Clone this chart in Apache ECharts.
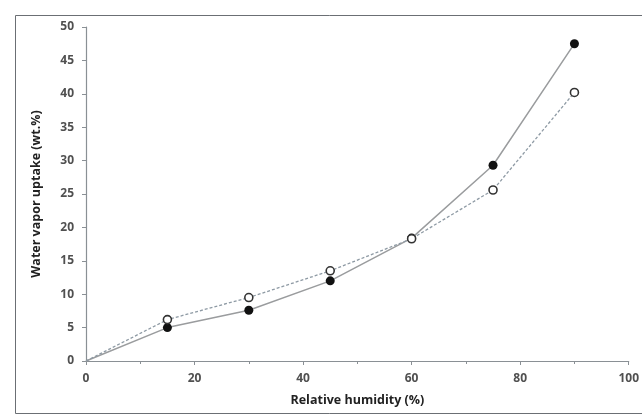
<!DOCTYPE html>
<html>
<head>
<meta charset="utf-8">
<script src="https://cdn.jsdelivr.net/npm/echarts@6/dist/echarts.min.js"></script>
<style>
html,body{margin:0;padding:0;background:#fff;}
#chart{width:642px;height:414px;}
</style>
</head>
<body>
<div id="chart"></div>
<script>
const humidity = [0, 15, 30, 45, 60, 75, 90];
const filledUptake = [0, 5.0, 7.6, 12.0, 18.4, 29.3, 47.5];
const openUptake = [0, 6.2, 9.5, 13.5, 18.3, 25.6, 40.2];
const xTitle = 'Relative humidity (%)';
const yTitle = 'Water vapor uptake (wt.%)';

function pairs(xs, ys) {
  return xs.map((x, i) => i === 0 ? { value: [x, ys[i]], symbolSize: 0 } : [x, ys[i]]);
}

const chart = echarts.init(document.getElementById('chart'));
const fontFamily = '"Open Sans", "Liberation Sans", sans-serif';
chart.setOption({
  backgroundColor: '#ffffff',
  animation: false,
  graphic: [{
    type: 'rect', left: 13, top: 13, z: -1,
    shape: { width: 640, height: 398 },
    style: { fill: 'none', stroke: '#6b6f74', lineWidth: 1 }
  }],
  grid: { left: 86, right: 12, top: 27, bottom: 53 },
  xAxis: {
    type: 'value', min: 0, max: 100, interval: 20,
    name: xTitle, nameLocation: 'middle', nameGap: 33,
    nameTextStyle: { fontFamily, fontWeight: 'bold', fontSize: 12.5, color: '#222' },
    axisLine: { show: true, lineStyle: { color: '#8a9095', width: 1.2 } },
    axisTick: { show: true, length: 4, lineStyle: { color: '#8a9095' } },
    minorTick: { show: true, splitNumber: 2, length: 3, lineStyle: { color: '#8a9095' } },
    axisLabel: { fontFamily, fontWeight: 'bold', fontSize: 12, color: '#505050', margin: 12 },
    splitLine: { show: false }
  },
  yAxis: {
    type: 'value', min: 0, max: 50, interval: 5,
    name: yTitle, nameLocation: 'middle', nameGap: 43, nameRotate: 90,
    nameTextStyle: { fontFamily, fontWeight: 'bold', fontSize: 12.5, color: '#222' },
    axisLine: { show: true, lineStyle: { color: '#8a9095', width: 1.2 } },
    axisTick: { show: true, length: 4, lineStyle: { color: '#8a9095' } },
    axisLabel: { fontFamily, fontWeight: 'bold', fontSize: 12, color: '#505050', margin: 12 },
    splitLine: { show: false }
  },
  series: [
    {
      type: 'line', data: pairs(humidity, filledUptake),
      symbol: 'circle', symbolSize: 9,
      lineStyle: { color: '#9a9c9e', width: 1.5, type: 'solid' },
      itemStyle: { color: '#111', borderColor: '#111', borderWidth: 0 },
      z: 3
    },
    {
      type: 'line', data: pairs(humidity, openUptake),
      symbol: 'circle', symbolSize: 8,
      lineStyle: { color: '#8e9aa4', width: 1.3, type: [3, 2] },
      itemStyle: { color: '#ffffff', borderColor: '#333', borderWidth: 1.6 },
      z: 4
    }
  ]
});
</script>
</body>
</html>
